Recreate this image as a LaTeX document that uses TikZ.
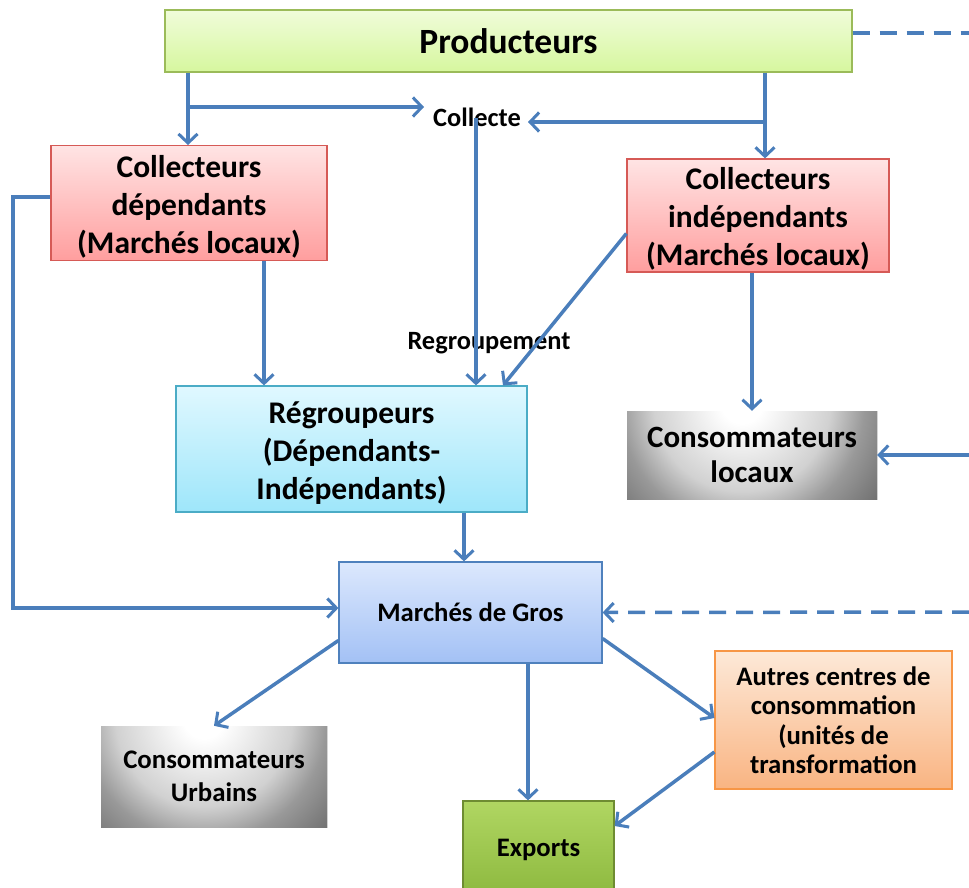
\documentclass[tikz,border=0pt]{standalone}
\usepackage{fontspec}
\setmainfont{Carlito}
\usetikzlibrary{arrows.meta,calc}
\definecolor{arr}{HTML}{4A7EBB}
\pgfdeclareradialshading{glow}{\pgfpoint{0bp}{0bp}}{color(0bp)=(white); color(3bp)=(white); color(13bp)=(black!18); color(18bp)=(black!40); color(22bp)=(black!50); color(25bp)=(black!57); color(50bp)=(black!57)}
\tikzset{
  box/.style={draw, line width=1.2pt, align=center, inner sep=2pt, font=\bfseries\fontsize{31.5}{38}\selectfont},
  midbox/.style={box, font=\bfseries\fontsize{26.7}{31}\selectfont},
  greybox/.style={align=center, inner sep=2pt, font=\bfseries\fontsize{26.8}{33}\selectfont,
    path picture={\fill[shading=glow] ($(path picture bounding box.north)+(-10,-8)$) circle (170pt);}},
  lbl/.style={font=\bfseries\fontsize{26.4}{30}\selectfont, inner sep=1pt},
  flow/.style={draw=arr, line width=3.5pt, -{Straight Barb[length=9pt,width=19pt,line width=3pt]}},
  flowline/.style={draw=arr, line width=3.5pt},
  dashflow/.style={flow, dash pattern=on 17pt off 10pt}
}
\begin{document}
\begin{tikzpicture}[x=1pt,y=-1pt]
\useasboundingbox (0,0) rectangle (969,888);
\clip (0,0) rectangle (969,888);

% nodes
\node[box, draw={rgb,255:red,155;green,187;blue,89}, top color={rgb,255:red,240;green,252;blue,218}, bottom color={rgb,255:red,214;green,247;blue,158},
  minimum width=687pt, minimum height=62pt, font=\bfseries\fontsize{35.5}{40}\selectfont] (P) at (508.5,41) {Producteurs};
\node[box, draw={rgb,255:red,214;green,90;blue,86}, top color={rgb,255:red,255;green,228;blue,228}, bottom color={rgb,255:red,255;green,158;blue,158},
  minimum width=276pt, minimum height=114pt] (CD) at (189,203) {\rule{0pt}{30pt}Collecteurs\\dépendants\\(Marchés locaux)};
\node[box, draw={rgb,255:red,214;green,90;blue,86}, top color={rgb,255:red,255;green,228;blue,228}, bottom color={rgb,255:red,255;green,158;blue,158},
  minimum width=262pt, minimum height=113pt] (CI) at (758,215.5) {\rule{0pt}{28pt}Collecteurs\\indépendants\\(Marchés locaux)};
\node[box, draw={rgb,255:red,75;green,172;blue,198}, top color={rgb,255:red,224;green,248;blue,255}, bottom color={rgb,255:red,158;green,230;blue,250},
  minimum width=351pt, minimum height=126pt] (RG) at (351.5,449) {\rule{0pt}{29pt}Régroupeurs\\(Dépendants-\\Indépendants)};
\node[greybox, minimum width=250pt, minimum height=88pt, font=\bfseries\fontsize{31}{35}\selectfont] (CL) at (752,455) {Consommateurs\\locaux};
\node[midbox, draw={rgb,255:red,79;green,129;blue,189}, top color={rgb,255:red,220;green,232;blue,253}, bottom color={rgb,255:red,163;green,193;blue,245},
  minimum width=263pt, minimum height=101pt] (MG) at (470.5,612.5) {Marchés de Gros};
\node[greybox, minimum width=226pt, minimum height=101pt] (CU) at (214,776.5) {Consommateurs\\Urbains};
\node[midbox, draw={rgb,255:red,247;green,150;blue,70}, top color={rgb,255:red,253;green,233;blue,216}, bottom color={rgb,255:red,249;green,180;blue,130},
  minimum width=237pt, minimum height=138pt, font=\bfseries\fontsize{26.7}{29.5}\selectfont] (AC) at (833.5,720) {Autres centres de\\consommation\\(unités de\\transformation};
\node[midbox, draw={rgb,255:red,110;green,140;blue,50}, top color={rgb,255:red,176;green,214;blue,98}, bottom color={rgb,255:red,140;green,184;blue,62},
  minimum width=151pt, minimum height=98pt] (EX) at (538.5,850) {Exports};

\node[lbl] (Col) at (477,117) {Collecte};
\node[lbl] (Reg) at (489,343) {Regroupement};

% helper coordinates
\coordinate (xa) at (188,0);
\coordinate (ja) at (188,107);
\coordinate (xb) at (765,0);
\coordinate (jb) at (765,122);
\coordinate (xc) at (476,0);
\coordinate (xd) at (264,0);
\coordinate (xe) at (503,0);
\coordinate (L1) at (13,197);
\coordinate (L2) at (13,608);
\coordinate (R0) at (969,33);
\coordinate (R1) at (969,455);
\coordinate (R2) at (969,612);
\coordinate (xf) at (464,0);
\coordinate (xg) at (528,0);

% connectors
\draw[flow] (P.south -| xa) -- (CD.north -| xa);
\draw[flow] (ja) -- ($(Col.west |- ja)+(-8,0)$);
\draw[flow] (P.south -| xb) -- (CI.north -| xb);
\draw[flow] (jb) -- ($(Col.east |- jb)+(6,0)$);
\draw[flow] ($(Col.south -| xc)+(0,-10)$) -- (RG.north -| xc);
\draw[flow] ($(CI.west)+(0,18)$) -- (RG.north -| xe);
\draw[flow] (CD.south -| xd) -- (RG.north -| xd);
\draw[flow] (CD.west |- L1) -- (L1) -- (L2) -- (MG.west |- L2);
\draw[flow] (CI.south -| CL.north) -- (CL.north);
\draw[flow] (R1) -- (CL.east);
\draw[flowline, dash pattern=on 17pt off 10pt] (P.east |- R0) -- (R0);
\draw[dashflow] (R2) -- (MG.east);
\draw[flow] (RG.south -| xf) -- (MG.north -| xf);
\draw[flow] ($(MG.west)+(0,28)$) -- (CU.north);
\draw[flow] (MG.south -| xg) -- (EX.north -| xg);
\draw[flow] ($(MG.east)+(0,26)$) -- ($(AC.west)+(0,-2)$);
\draw[flow] ($(AC.west)+(0,32)$) -- ($(EX.east)+(0,-24)$);
\end{tikzpicture}
\end{document}
